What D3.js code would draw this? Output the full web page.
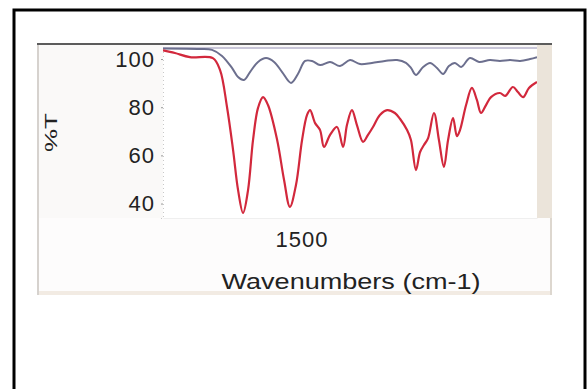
<!DOCTYPE html>
<html>
<head>
<meta charset="utf-8">
<script src="https://cdn.jsdelivr.net/npm/d3@7/dist/d3.min.js"></script>
<style>
  html, body { margin: 0; padding: 0; background: #ffffff; }
  svg { display: block; }
  text { font-family: "Liberation Sans", Arial, sans-serif; fill: #222222; }
</style>
</head>
<body>
<svg id="chart" width="587" height="389"></svg>
<script>
// IR spectra: % transmittance against wavenumber (cm-1), x axis runs high to low.
const sampleWavenumbers = [2000, 1957, 1903, 1820, 1794, 1769, 1747, 1729, 1711, 1693, 1675, 1657, 1639, 1621,
  1588, 1563, 1542, 1520, 1498, 1480, 1469, 1451, 1433, 1419, 1397, 1372, 1350, 1336, 1318, 1300, 1278,
  1260, 1242, 1217, 1191, 1163, 1144, 1119, 1105, 1087, 1072, 1058, 1043, 1022, 1004, 986, 971, 953,
  939, 928, 906, 885, 867, 852, 834, 816, 784, 765, 737, 719, 700, 679, 650];
const sampleTransmittance = [103.6, 102.5, 100.8, 100.4, 95.4, 80.1, 62.2, 45.6, 36.1, 45.6, 66.4, 79.7, 84.2, 80.9,
  66.4, 49.8, 38.6, 47.7, 66.4, 76.8, 78.8, 73.4, 70.5, 63.5, 68.5, 71.8, 63.5, 72.6, 78.8, 72.6, 65.6,
  68.5, 71.8, 76.8, 78.8, 77.6, 75.1, 70.5, 66.4, 53.9, 61.4, 64.3, 67.2, 77.6, 66.4, 55.2, 66.4, 75.5,
  68.0, 70.5, 80.9, 88.0, 83.0, 77.6, 80.9, 84.2, 85.9, 84.7, 88.4, 86.3, 84.2, 88.0, 90.5];

const referenceWavenumbers = [2000, 1866, 1823, 1787, 1751, 1729, 1708, 1686, 1657, 1628, 1599, 1570, 1538, 1513,
  1487, 1462, 1433, 1397, 1361, 1325, 1289, 1246, 1199, 1155, 1123, 1105, 1087, 1061, 1036, 1011, 989,
  968, 946, 924, 892, 859, 820, 784, 747, 711, 675, 650];
const referenceTransmittance = [104.4, 104.2, 103.8, 101.3, 96.3, 92.5, 91.3, 94.6, 98.8, 100.4, 98.8, 94.6, 90.1, 93.8,
  99.2, 99.2, 97.5, 98.8, 97.1, 99.6, 97.9, 98.4, 99.2, 99.6, 98.4, 96.3, 93.4, 96.7, 98.4, 96.3, 93.8,
  97.1, 98.4, 96.7, 100.4, 98.8, 99.6, 99.2, 99.6, 99.2, 100.0, 100.8];

const yTickValues = [40, 60, 80, 100];
const xTickValues = [1500];
const yTitle = "%T";
const xTitle = "Wavenumbers (cm-1)";

const svg = d3.select("#chart");

// outer frame
svg.append("rect").attr("x", 14).attr("y", 10).attr("width", 571).attr("height", 400)
  .attr("fill", "#ffffff").attr("stroke", "#000000").attr("stroke-width", 3);

// chart panel
svg.append("rect").attr("x", 37).attr("y", 43).attr("width", 515).attr("height", 252).attr("fill", "#faf9f8");
svg.append("rect").attr("x", 37).attr("y", 218).attr("width", 515).attr("height", 74).attr("fill", "#fdfcfc");
svg.append("rect").attr("x", 37).attr("y", 291).attr("width", 515).attr("height", 4).attr("fill", "#f2ebe3");
svg.append("line").attr("x1", 38).attr("x2", 38).attr("y1", 43).attr("y2", 295).attr("stroke", "#d6d2ce").attr("stroke-width", 2);
svg.append("line").attr("x1", 551).attr("x2", 551).attr("y1", 43).attr("y2", 295).attr("stroke", "#ddd7cf").attr("stroke-width", 2);
svg.append("rect").attr("x", 537).attr("y", 44).attr("width", 15).attr("height", 174).attr("fill", "#ebe4da");
svg.append("line").attr("x1", 37).attr("x2", 552).attr("y1", 44).attr("y2", 44).attr("stroke", "#5c5c5c").attr("stroke-width", 2);

const plot = { left: 163, right: 537, top: 47, bottom: 218 };
svg.append("rect").attr("x", plot.left).attr("y", plot.top)
  .attr("width", plot.right - plot.left).attr("height", plot.bottom - plot.top).attr("fill", "#ffffff");
svg.append("line").attr("x1", plot.left).attr("x2", plot.right).attr("y1", 48).attr("y2", 48)
  .attr("stroke", "#c9c6d8").attr("stroke-width", 2);

const x = d3.scaleLinear().domain([2000, 650]).range([plot.left, plot.right]);
const y = d3.scaleLinear().domain([34, 105]).range([plot.bottom, plot.top]);

// y axis
const yAxis = svg.append("g").attr("transform", `translate(${plot.left},0)`)
  .call(d3.axisLeft(y).tickValues(yTickValues).tickSize(2).tickPadding(6).tickFormat(d3.format("d")));
yAxis.select(".domain").attr("stroke", "#c8c8c8").attr("stroke-dasharray", "1,3");
yAxis.selectAll(".tick line").attr("stroke", "#9a9a9a");
yAxis.selectAll(".tick text").attr("font-size", 22).attr("font-family", "Liberation Sans, Arial")
  .attr("letter-spacing", 1).attr("fill", "#222222");

// x axis
const xAxis = svg.append("g").attr("transform", `translate(0,${plot.bottom})`)
  .call(d3.axisBottom(x).tickValues(xTickValues).tickSize(0).tickFormat(d3.format("d")));
xAxis.select(".domain").attr("stroke", "#efefef");
xAxis.selectAll(".tick text").attr("font-size", 22).attr("font-family", "Liberation Sans, Arial")
  .attr("letter-spacing", 1).attr("fill", "#222222").attr("y", 29).attr("dy", 0);

// axis titles
svg.append("text").attr("transform", "translate(57,132.5) rotate(-90)")
  .attr("text-anchor", "middle").attr("font-size", 17)
  .attr("textLength", 39).attr("lengthAdjust", "spacingAndGlyphs").text(yTitle);
svg.append("text").attr("x", 351).attr("y", 289).attr("text-anchor", "middle")
  .attr("font-size", 22).attr("textLength", 259).attr("lengthAdjust", "spacingAndGlyphs").text(xTitle);

// spectra
const line = d3.line().x(d => x(d[0])).y(d => y(d[1])).curve(d3.curveCatmullRom.alpha(0.5));
svg.append("clipPath").attr("id", "plot-clip").append("rect")
  .attr("x", plot.left).attr("y", plot.top).attr("width", plot.right - plot.left).attr("height", plot.bottom - plot.top);

svg.append("path")
  .datum(referenceWavenumbers.map((w, i) => [w, referenceTransmittance[i]]))
  .attr("clip-path", "url(#plot-clip)")
  .attr("d", line).attr("fill", "none").attr("stroke", "#6c6f8e").attr("stroke-width", 2);

svg.append("path")
  .datum(sampleWavenumbers.map((w, i) => [w, sampleTransmittance[i]]))
  .attr("clip-path", "url(#plot-clip)")
  .attr("d", line).attr("fill", "none").attr("stroke", "#d2283c").attr("stroke-width", 2.2);
</script>
</body>
</html>
